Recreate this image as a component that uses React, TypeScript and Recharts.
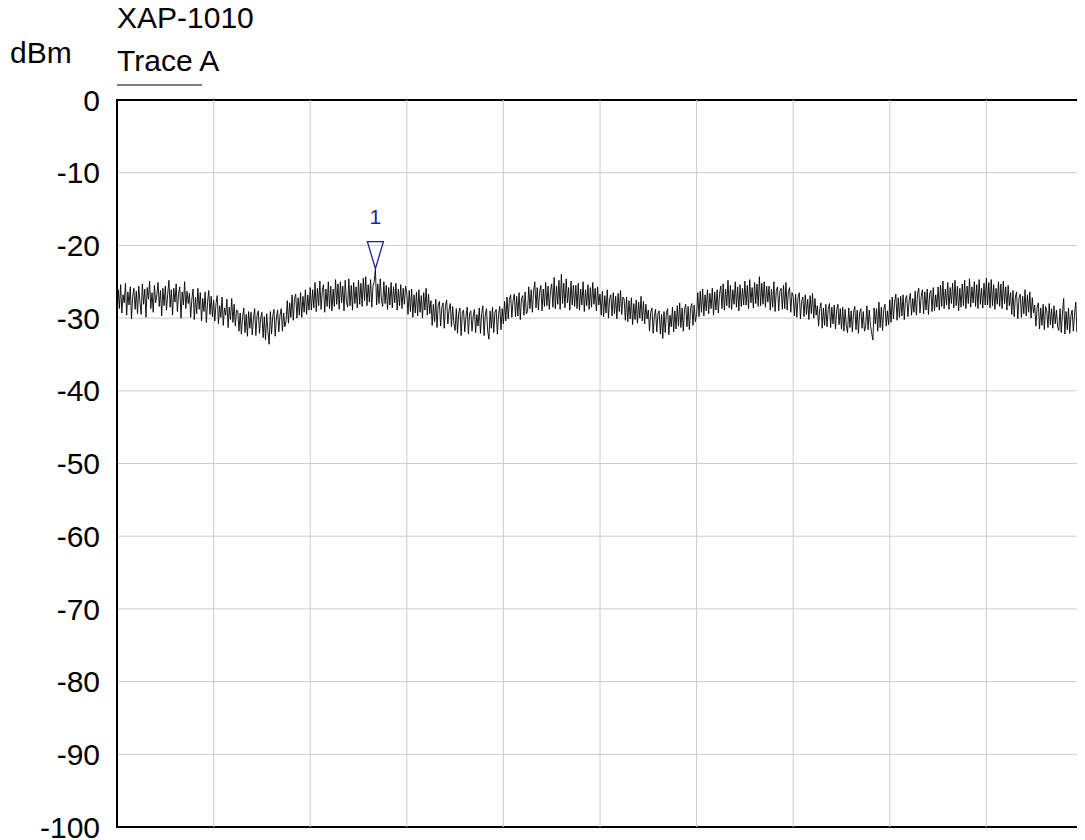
import {
  LineChart,
  Line,
  XAxis,
  YAxis,
  CartesianGrid,
  ReferenceArea,
  ReferenceDot,
  ReferenceLine,
} from 'recharts';

const FONT = '"Liberation Sans", Arial, sans-serif';

// Trace A level in dBm, one value per sweep bin (0..800)
const traceA: number[] = [
  -29.8, -26.1, -28.7, -25.4, -29.3, -26.8, -27.9, -25.2, -29.6, -26.4, -28.2, -25.7, -30.1, -27.0, -25.9, -28.8, -26.3, -29.4, -25.6, -27.8,
  -29.5, -25.3, -28.1, -26.0, -29.9, -25.8, -27.4, -24.9, -28.7, -26.5, -29.2, -25.5, -27.9, -26.8, -25.1, -28.4, -26.2, -29.7, -25.9, -28.3,
  -25.6, -28.9, -26.7, -24.8, -28.5, -26.1, -29.6, -25.9, -27.8, -25.3, -29.1, -26.6, -25.7, -30.0, -26.4, -28.2, -25.0, -28.7, -26.3, -28.0,
  -26.6, -29.9, -27.4, -26.0, -30.2, -27.1, -29.4, -25.9, -28.8, -26.5, -30.4, -27.3, -29.1, -26.4, -30.6, -27.8, -26.2, -29.5, -27.0, -29.8,
  -27.5, -30.4, -28.0, -26.9, -30.8, -28.3, -29.9, -27.1, -31.0, -28.6, -29.6, -27.4, -31.3, -28.5, -30.2, -27.3, -30.6, -28.1, -31.1, -28.9,
  -29.0, -31.8, -29.3, -32.2, -29.9, -28.6, -32.0, -29.5, -32.5, -29.1, -31.4, -29.2, -32.3, -30.1, -28.7, -32.4, -29.6, -29.0, -32.1, -30.0,
  -29.2, -32.7, -29.8, -33.0, -29.4, -31.9, -33.6, -29.1, -32.2, -29.7, -28.8, -32.5, -30.0, -28.9, -31.9, -29.6, -28.7, -31.8, -29.3, -31.2,
  -30.4, -27.6, -30.7, -27.9, -29.9, -26.8, -30.3, -27.3, -26.7, -30.0, -27.2, -29.6, -26.5, -29.9, -27.0, -29.2, -26.1, -29.5, -26.8, -28.9,
  -25.8, -28.9, -26.1, -28.6, -25.1, -29.1, -25.9, -28.3, -24.9, -28.8, -26.3, -25.4, -29.2, -26.0, -28.4, -25.0, -28.7, -25.6, -29.0, -26.0,
  -28.4, -24.7, -28.1, -25.3, -28.8, -25.0, -27.9, -25.6, -29.0, -24.8, -27.7, -28.5, -24.6, -28.3, -25.5, -28.9, -25.1, -28.0, -25.7, -28.6,
  -24.8, -28.1, -25.2, -28.4, -24.5, -27.6, -24.3, -28.3, -25.4, -27.8, -24.7, -28.5, -25.6, -25.0, -23.2, -28.2, -25.3, -28.0, -24.6, -27.5,
  -28.4, -25.0, -28.0, -25.5, -28.8, -25.8, -28.2, -25.1, -28.6, -25.7, -27.9, -25.2, -28.9, -26.0, -28.3, -25.4, -28.7, -25.9, -28.1, -25.6,
  -26.6, -29.5, -26.2, -29.1, -26.0, -29.9, -26.8, -29.3, -26.4, -29.7, -26.1, -29.2, -26.9, -30.0, -26.5, -28.9, -25.9, -29.6, -26.7, -29.4,
  -27.6, -31.0, -28.1, -30.5, -27.4, -31.3, -28.2, -27.7, -31.1, -28.6, -27.9, -31.4, -28.3, -27.5, -30.8, -28.8, -28.0, -31.2, -28.4, -30.7,
  -31.7, -28.7, -32.1, -29.3, -28.6, -32.4, -29.2, -28.9, -31.9, -29.8, -28.5, -32.2, -29.4, -29.0, -31.8, -29.7, -28.8, -32.0, -29.5, -31.1,
  -28.6, -32.1, -29.4, -28.3, -32.4, -29.6, -28.7, -31.8, -32.9, -29.0, -31.4, -28.5, -32.0, -29.2, -28.8, -32.2, -29.5, -28.4, -31.6, -28.7,
  -30.8, -27.7, -30.4, -27.1, -30.1, -27.4, -26.8, -29.9, -27.6, -26.7, -29.8, -27.0, -29.7, -26.5, -30.2, -27.3, -26.9, -29.6, -26.4, -29.4,
  -29.1, -25.7, -28.7, -26.1, -29.2, -26.3, -25.0, -28.6, -25.8, -28.9, -26.4, -25.5, -29.0, -26.0, -28.4, -25.1, -28.3, -25.6, -28.8, -26.2,
  -25.3, -28.5, -24.4, -28.7, -25.6, -28.1, -24.8, -28.8, -24.0, -28.0, -25.2, -28.6, -24.6, -27.9, -25.8, -28.9, -24.9, -28.2, -25.5, -28.4,
  -25.5, -28.7, -25.2, -28.9, -26.0, -28.2, -25.0, -29.1, -26.1, -28.3, -25.4, -28.8, -25.8, -28.5, -25.1, -28.1, -25.9, -29.0, -25.7, -28.2,
  -26.7, -29.6, -26.3, -29.8, -26.9, -29.3, -26.1, -30.0, -27.3, -26.8, -29.7, -26.5, -29.4, -27.0, -30.1, -26.6, -29.1, -26.2, -29.5, -27.1,
  -27.4, -30.3, -27.1, -30.5, -27.6, -30.1, -27.2, -30.9, -28.0, -30.2, -27.5, -30.7, -27.8, -30.0, -27.0, -30.4, -27.7, -30.8, -28.1, -30.1,
  -28.9, -31.8, -29.2, -28.6, -32.1, -29.7, -28.8, -31.9, -29.4, -29.0, -32.2, -29.5, -32.8, -29.1, -32.0, -29.3, -28.7, -32.3, -29.6, -31.2,
  -28.5, -31.9, -29.0, -31.5, -28.3, -31.1, -27.9, -31.3, -28.6, -31.8, -28.8, -28.1, -31.2, -28.4, -31.6, -28.7, -28.0, -31.0, -28.2, -30.5,
  -29.5, -26.5, -29.8, -26.3, -29.2, -26.0, -29.7, -26.8, -29.0, -26.1, -29.4, -26.6, -28.7, -25.9, -29.6, -26.4, -28.9, -26.1, -29.3, -26.7,
  -25.6, -28.7, -25.3, -28.9, -26.0, -28.3, -24.8, -28.6, -25.5, -28.8, -26.1, -28.1, -25.0, -28.5, -25.7, -29.0, -25.4, -28.4, -25.9, -28.2,
  -24.9, -28.2, -25.5, -28.7, -24.7, -27.9, -25.8, -28.6, -25.1, -28.0, -25.3, -28.4, -24.3, -28.3, -25.2, -28.1, -25.0, -28.5, -25.6, -27.8,
  -25.6, -28.9, -26.0, -28.5, -25.0, -29.1, -26.2, -25.7, -29.0, -26.3, -25.9, -28.8, -25.5, -28.7, -25.1, -28.9, -26.4, -25.8, -29.2, -26.5,
  -27.0, -29.7, -26.7, -29.9, -27.2, -26.5, -30.1, -27.7, -27.1, -29.8, -26.8, -29.5, -27.4, -30.2, -26.9, -29.4, -26.6, -30.0, -27.3, -29.6,
  -28.3, -31.1, -28.7, -27.9, -31.4, -28.6, -31.0, -28.1, -31.2, -28.8, -28.0, -31.3, -28.5, -30.8, -28.2, -31.5, -28.9, -28.1, -30.9, -28.7,
  -31.5, -28.5, -31.8, -28.8, -31.1, -32.0, -28.6, -31.3, -29.0, -31.9, -29.2, -28.4, -31.6, -28.9, -32.1, -29.3, -28.7, -31.4, -29.1, -31.8,
  -31.2, -28.3, -31.6, -28.9, -31.0, -32.1, -33.0, -28.6, -30.8, -28.7, -31.8, -27.8, -31.3, -28.5, -31.7, -28.8, -28.1, -31.1, -29.0, -30.9,
  -27.5, -30.6, -27.1, -30.1, -27.8, -26.7, -30.3, -27.2, -29.9, -27.0, -29.7, -26.8, -30.2, -27.4, -26.9, -29.8, -27.6, -26.6, -29.6, -27.3,
  -29.2, -26.3, -29.6, -26.6, -25.9, -29.3, -27.0, -26.1, -29.4, -26.4, -28.9, -26.0, -29.5, -26.7, -26.2, -29.1, -25.8, -29.0, -26.8, -28.5,
  -25.7, -28.9, -25.5, -28.4, -24.9, -28.7, -26.0, -28.2, -25.1, -28.8, -25.8, -28.0, -25.2, -28.6, -24.8, -28.3, -25.6, -29.0, -25.9, -28.5,
  -25.3, -28.3, -24.8, -28.7, -25.6, -28.0, -24.6, -28.5, -25.7, -27.9, -25.0, -28.4, -25.4, -28.7, -24.7, -28.1, -25.9, -28.6, -25.2, -28.2,
  -24.5, -28.2, -25.1, -28.6, -24.7, -28.3, -25.4, -28.8, -25.9, -28.1, -25.0, -28.4, -25.3, -28.7, -24.9, -28.0, -25.7, -28.9, -25.5, -28.3,
  -26.5, -29.5, -26.2, -29.8, -27.1, -26.4, -30.1, -27.3, -26.7, -29.9, -27.0, -29.4, -26.1, -29.7, -26.8, -29.2, -26.4, -30.0, -27.2, -29.3,
  -28.2, -31.1, -28.5, -27.9, -31.5, -28.6, -31.0, -28.1, -31.6, -28.4, -29.0, -31.3, -28.0, -30.9, -28.7, -31.4, -28.3, -30.8, -28.9, -31.2,
  -31.7, -28.7, -32.0, -29.3, -27.3, -32.2, -29.1, -31.6, -28.6, -32.1, -29.7, -28.9, -31.8, -29.4, -27.8, -31.9, -29.0, -31.5, -28.8, -32.0,
  -28.0,
];

const yTicks = [0, -10, -20, -30, -40, -50, -60, -70, -80, -90, -100];
const xGridTicks = [80, 160, 240, 320, 400, 480, 560, 640, 720];
const lastBin = traceA.length - 1;

const markerBin = 214;
const markerLabel = '1';

const data = traceA.map((v, i) => ({ bin: i, level: v }));

function MarkerShape(props: any) {
  const { cx, cy } = props;
  if (cx == null || cy == null) return null;
  return (
    <g>
      <path
        d={`M${cx},${cy} L${cx - 8},${cy - 27} L${cx + 8},${cy - 27} Z`}
        fill="none"
        stroke="#1f1f9a"
        strokeWidth={1.3}
      />
      <text
        x={cx}
        y={cy - 45}
        textAnchor="middle"
        fill="#1f1f9a"
        fontSize={21}
        fontFamily={FONT}
        style={{ fontSize: '21px', fontFamily: FONT }}
      >
        {markerLabel}
      </text>
    </g>
  );
}

export default function App() {
  return (
    <div style={{ position: 'relative', width: 1077, height: 832 }}>
      <LineChart
        width={1077}
        height={832}
        data={data}
        margin={{ top: 92, right: 2, left: 0, bottom: 13 }}
      >
        <CartesianGrid stroke="#cccccc" strokeWidth={1} vertical={false} />
        <XAxis
          dataKey="bin"
          type="number"
          domain={[0, lastBin]}
          tick={false}
          axisLine={false}
          tickLine={false}
          height={0}
        />
        <YAxis
          type="number"
          domain={[-100, 0]}
          ticks={yTicks}
          interval={0}
          width={109}
          axisLine={false}
          tickLine={false}
          tickSize={15}
          tickMargin={2}
          tick={{ fontSize: 30, fill: '#000', fontFamily: FONT }}
        />
        {xGridTicks.map((t) => (
          <ReferenceLine key={t} x={t} stroke="#cccccc" strokeWidth={1} />
        ))}
        <ReferenceArea
          x1={0}
          x2={lastBin}
          y1={-100}
          y2={0}
          fill="none"
          stroke="#000"
          strokeWidth={2}
          fillOpacity={0}
        />
        <Line
          type="linear"
          dataKey="level"
          stroke="#000"
          strokeWidth={0.9}
          dot={false}
          isAnimationActive={false}
        />
        <ReferenceDot
          x={markerBin}
          y={traceA[markerBin]}
          r={0}
          shape={MarkerShape}
        />
      </LineChart>
      <svg
        width={1077}
        height={100}
        style={{ position: 'absolute', left: 0, top: 0, pointerEvents: 'none', overflow: 'visible' }}
      >
        <text x={109} y={20} fontSize={30} fontFamily={FONT} fill="#000">
          XAP-1010
        </text>
        <text x={2} y={55} fontSize={30} fontFamily={FONT} fill="#000">
          dBm
        </text>
        <text x={109} y={63} fontSize={30} fontFamily={FONT} fill="#000">
          Trace A
        </text>
        <line x1={109} y1={77} x2={194} y2={77} stroke="#555" strokeWidth={1.5} />
      </svg>
    </div>
  );
}
